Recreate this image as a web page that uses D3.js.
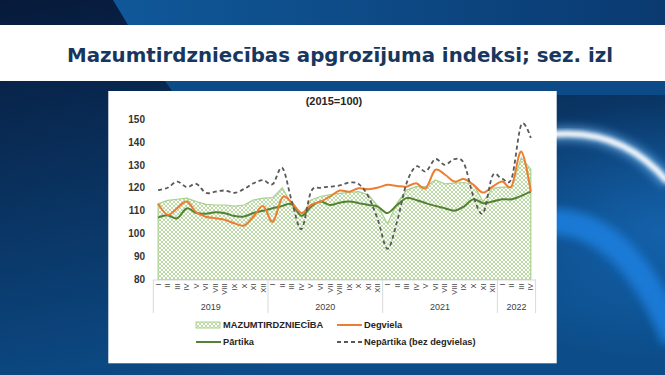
<!DOCTYPE html>
<html>
<head>
<meta charset="utf-8">
<script src="https://cdn.jsdelivr.net/npm/d3@7"></script>
<style>
html, body { margin: 0; padding: 0; background: #0a2f5c; }
svg { display: block; }
</style>
</head>
<body>
<div id="chart"></div>
<script>
// data
var monthNames = ["I", "II", "III", "IV", "V", "VI", "VII", "VIII", "IX", "X", "XI", "XII"];
var years = ["2019", "2020", "2021", "2022"];
var monthsInYear = [12, 12, 12, 4];
var yTicks = [80, 90, 100, 110, 120, 130, 140, 150];

var total = [113, 114.5, 115, 115.5, 114, 112.8, 112.5, 112.5, 112, 112.5, 114.7, 115.5,
    115.7, 120, 112.5, 107.5, 114.7, 116.2, 117, 117.6, 118, 118.3, 117, 112,
    104.3, 113.3, 119, 120.5, 120.5, 123.4, 121.7, 122, 122.3, 121.5, 114, 119.8,
    120.3, 120.3, 133, 128.1];
var degviela = [113, 108.2, 111.1, 114, 109.3, 107.4, 106.7, 106, 104.5, 103.5, 107.5, 112,
    105.2, 115.8, 113.5, 109, 112.5, 114, 116.2, 118.8, 118.3, 119.8, 119.4, 120.1,
    121.3, 120.8, 120.5, 122, 119.8, 127.8, 125.8, 122.7, 123.8, 121.3, 117.9, 120.5,
    122.7, 120.8, 135.8, 118.3];
var partika = [107, 108, 106.7, 111, 109, 108.7, 109.3, 108.9, 107.7, 107.5, 109, 110,
    111.1, 112.1, 112.8, 107.8, 111.8, 114, 112.5, 113.5, 114, 113.3, 112.5, 111.8,
    109, 112.5, 115.5, 114.7, 113.3, 112.1, 111.1, 110, 111.8, 115, 113.3, 114,
    115, 115, 116.5, 118.3];
var nepartika = [119, 120, 122.7, 120.3, 121.7, 117.8, 118.3, 118.8, 117.8, 119.5, 122, 123.3,
    121.6, 128.7, 114, 102, 118.3, 120, 120.5, 121, 122.3, 121.6, 116.2, 106,
    93.4, 105.2, 122, 129.3, 127.1, 132.5, 130, 132.5, 130.7, 116.2, 108.9, 125.3,
    123.9, 124.2, 147.5, 141.7];

var W = 665, H = 375;

// categories
var cats = [];
years.forEach(function(yr, yi) {
    for (var m = 0; m < monthsInYear[yi]; m++) cats.push(yr + "-" + monthNames[m]);
});

var svg = d3.select("#chart").append("svg")
    .attr("xmlns", "http://www.w3.org/2000/svg")
    .attr("width", W).attr("height", H);

var defs = svg.append("defs");

var bgGrad = defs.append("linearGradient").attr("id", "bg")
    .attr("x1", 0).attr("y1", 0).attr("x2", 0.35).attr("y2", 1);
bgGrad.append("stop").attr("offset", "0%").attr("stop-color", "#071a3a");
bgGrad.append("stop").attr("offset", "100%").attr("stop-color", "#0c4c88");

var topGrad = defs.append("linearGradient").attr("id", "topband");
topGrad.append("stop").attr("offset", "0%").attr("stop-color", "#105899");
topGrad.append("stop").attr("offset", "100%").attr("stop-color", "#0a3a70");

var glow = defs.append("radialGradient").attr("id", "glow")
    .attr("cx", 1).attr("cy", 0.62).attr("r", 0.35);
glow.append("stop").attr("offset", "0%").attr("stop-color", "#1565b0").attr("stop-opacity", 0.9);
glow.append("stop").attr("offset", "100%").attr("stop-color", "#1565b0").attr("stop-opacity", 0);

defs.append("filter").attr("id", "blur2").append("feGaussianBlur").attr("stdDeviation", 2);
defs.append("filter").attr("id", "blur5")
    .attr("x", "-50%").attr("y", "-50%").attr("width", "200%").attr("height", "200%")
    .append("feGaussianBlur").attr("stdDeviation", 5);

// hatch for the total area
var hatch = defs.append("pattern").attr("id", "hatch")
    .attr("width", 4).attr("height", 4).attr("patternUnits", "userSpaceOnUse");
hatch.append("rect").attr("width", 4).attr("height", 4).attr("fill", "#ffffff");
hatch.append("path").attr("d", "M0,0L4,4M4,0L0,4")
    .attr("stroke", "#a9d18e").attr("stroke-width", 0.8);

// slide background
svg.append("rect").attr("width", W).attr("height", H).attr("fill", "url(#bg)");
svg.append("rect").attr("width", W).attr("height", H).attr("fill", "url(#glow)");
svg.append("path").attr("d", "M113,0L665,0L665,25L128,25Z").attr("fill", "url(#topband)");
svg.append("path").attr("d", "M165,81L665,81L665,95L175,95Z").attr("fill", "#0d4a88");
svg.append("path").attr("d", "M548,222 Q625,218 675,340")
    .attr("fill", "none").attr("stroke", "#1a80e0").attr("stroke-width", 26)
    .attr("opacity", 0.85).attr("filter", "url(#blur5)");
svg.append("path").attr("d", "M548,135 Q620,126 668,182")
    .attr("fill", "none").attr("stroke", "#7cc3ff").attr("stroke-width", 14)
    .attr("opacity", 0.6).attr("filter", "url(#blur5)");
svg.append("path").attr("d", "M548,135 Q620,126 668,182")
    .attr("fill", "none").attr("stroke", "#ffffff").attr("stroke-width", 6)
    .attr("filter", "url(#blur2)");

// title banner
svg.append("rect").attr("x", 0).attr("y", 25).attr("width", W).attr("height", 56).attr("fill", "#ffffff");
svg.append("text")
    .attr("x", 340).attr("y", 62)
    .attr("text-anchor", "middle")
    .style("font-family", "'DejaVu Sans', Verdana, sans-serif")
    .style("font-weight", "bold")
    .style("font-size", "20px")
    .attr("fill", "#17375e")
    .attr("textLength", 546).attr("lengthAdjust", "spacingAndGlyphs")
    .text("Mazumtirdzniecības apgrozījuma indeksi; sez. izl");

// chart box
svg.append("rect").attr("x", 108.3).attr("y", 91).attr("width", 448.4).attr("height", 272.3).attr("fill", "#ffffff");

var font = "'Liberation Sans', Arial, sans-serif";

svg.append("text")
    .attr("x", 334).attr("y", 105)
    .attr("text-anchor", "middle")
    .style("font-family", font).style("font-weight", "bold").style("font-size", "11px")
    .attr("fill", "#262626")
    .text("(2015=100)");

// scales
var xScale = d3.scaleBand().domain(cats).range([153.3, 535.6]).padding(0);
var yScale = d3.scaleLinear().domain([80, 150]).range([279.5, 119]);
var xc = function(d, i) { return xScale(cats[i]) + xScale.bandwidth() / 2; };

// y axis
var yAxis = svg.append("g").attr("transform", "translate(153,0)")
    .call(d3.axisLeft(yScale).tickValues(yTicks).tickSize(0).tickPadding(8));
yAxis.select(".domain").remove();
yAxis.selectAll("text")
    .style("font-family", font).style("font-weight", "bold").style("font-size", "10px")
    .attr("fill", "#333333");

// total area
var area = d3.area()
    .x(xc)
    .y0(yScale(80))
    .y1(function(d) { return yScale(d); });
svg.append("path").datum(total)
    .attr("d", area)
    .attr("fill", "url(#hatch)")
    .attr("stroke", "#a9d18e").attr("stroke-width", 1.2);

// x axis
var xAxis = svg.append("g").attr("transform", "translate(0," + yScale(80) + ")")
    .call(d3.axisBottom(xScale).tickSize(0).tickFormat(function(d) { return d.split("-")[1]; }));
xAxis.select(".domain").attr("stroke", "#d9d9d9");
xAxis.selectAll("text")
    .attr("transform", "rotate(-90)")
    .attr("text-anchor", "end")
    .attr("x", -4).attr("y", 0).attr("dy", "0.33em")
    .style("font-family", font).style("font-size", "7.5px")
    .attr("fill", "#404040");

// year groups
var start = 0, bounds = [0];
monthsInYear.forEach(function(n) { start += n; bounds.push(start); });
var bx = function(i) { return i < cats.length ? xScale(cats[i]) : xScale.range()[1]; };
svg.selectAll(".sep").data(bounds).enter().append("line")
    .attr("class", "sep")
    .attr("x1", function(d) { return bx(d); }).attr("x2", function(d) { return bx(d); })
    .attr("y1", yScale(80)).attr("y2", 313)
    .attr("stroke", "#d9d9d9").attr("stroke-width", 1);
svg.selectAll(".yr").data(years).enter().append("text")
    .attr("class", "yr")
    .attr("x", function(d, i) { return (bx(bounds[i]) + bx(bounds[i + 1])) / 2; })
    .attr("y", 310)
    .attr("text-anchor", "middle")
    .style("font-family", font).style("font-size", "9px")
    .attr("fill", "#404040")
    .text(function(d) { return d; });

// smooth lines
var line = d3.line()
    .x(xc)
    .y(function(d) { return yScale(d); })
    .curve(d3.curveCardinal.tension(0));

var series = [
    { data: partika, color: "#548235", width: 2, dash: null },
    { data: degviela, color: "#ed7d31", width: 2, dash: null },
    { data: nepartika, color: "#595959", width: 1.8, dash: "4,3" }
];
series.forEach(function(s) {
    svg.append("path").datum(s.data)
        .attr("d", line)
        .attr("fill", "none")
        .attr("stroke", s.color)
        .attr("stroke-width", s.width)
        .attr("stroke-dasharray", s.dash);
});

// legend
var legend = svg.append("g").attr("class", "legend");
var items = [
    { name: "MAZUMTIRDZNIECĪBA", x: 196, y: 325, type: "area" },
    { name: "Degviela", x: 337, y: 325, color: "#ed7d31", dash: null },
    { name: "Pārtika", x: 196, y: 342, color: "#548235", dash: null },
    { name: "Nepārtika (bez degvielas)", x: 337, y: 342, color: "#595959", dash: "4,3" }
];
items.forEach(function(it) {
    if (it.type === "area") {
        legend.append("rect")
            .attr("x", it.x).attr("y", it.y - 3).attr("width", 24).attr("height", 6)
            .attr("fill", "url(#hatch)").attr("stroke", "#a9d18e").attr("stroke-width", 1);
    } else {
        legend.append("line")
            .attr("x1", it.x).attr("x2", it.x + 25)
            .attr("y1", it.y).attr("y2", it.y)
            .attr("stroke", it.color).attr("stroke-width", 2)
            .attr("stroke-dasharray", it.dash);
    }
    legend.append("text")
        .attr("x", it.x + 27).attr("y", it.y).attr("dy", "0.35em")
        .style("font-family", font).style("font-weight", "bold").style("font-size", "9.3px")
        .attr("fill", "#262626")
        .text(it.name);
});
</script>
</body>
</html>
